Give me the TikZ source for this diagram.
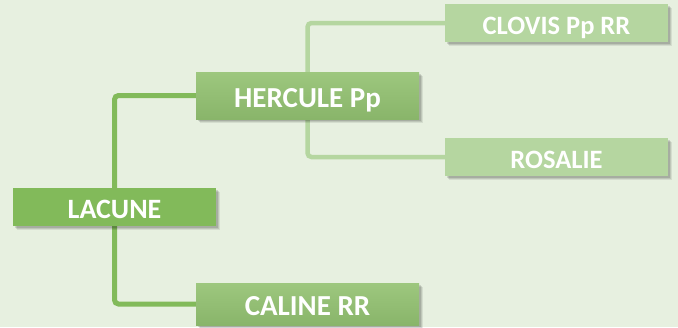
\documentclass[tikz,border=0pt]{standalone}
\usepackage{fontspec}
\setmainfont{Carlito}
\usetikzlibrary{shadows}
\definecolor{bgc}{HTML}{E7F0E0}
\definecolor{dark}{HTML}{82BA5A}
\definecolor{midtop}{HTML}{9DC77E}
\definecolor{midbot}{HTML}{89B56A}
\definecolor{light}{HTML}{B5D6A0}
\pgfdeclarelayer{bg}
\pgfdeclarelayer{lines}
\pgfsetlayers{bg,lines,main}
\tikzset{
  softshadow/.style={
    general shadow={shadow xshift=4pt, shadow yshift=-4pt, fill=black, opacity=0.08},
    general shadow={shadow xshift=3pt, shadow yshift=-3pt, fill=black, opacity=0.10},
    general shadow={shadow xshift=2pt, shadow yshift=-2pt, fill=black, opacity=0.12}},
  box/.style={rectangle, inner sep=0pt, text=white, softshadow},
  rootbox/.style={box, fill=dark, minimum width=203pt, minimum height=38pt,
    font=\fontsize{28}{30}\selectfont\bfseries, text height=22pt, text depth=0pt},
  midbox/.style={box, top color=midtop, bottom color=midbot, minimum width=223pt,
    font=\fontsize{29}{31}\selectfont\bfseries, text height=23pt, text depth=0pt},
  leafbox/.style={box, fill=light, minimum width=223pt, minimum height=38pt,
    font=\fontsize{26.5}{28}\selectfont\bfseries, text height=22pt, text depth=0pt},
  darkline/.style={draw=dark, line width=5pt, rounded corners=4pt},
  lightline/.style={draw=light, line width=4.5pt, rounded corners=4pt},
}
\begin{document}
\begin{tikzpicture}[x=1pt,y=-1pt]
\begin{pgfonlayer}{bg}
\fill[bgc] (0,0) rectangle (678,327);
\end{pgfonlayer}
\useasboundingbox (0,0) rectangle (678,327);
\node[rootbox] (lac) at (114.5,207) {LACUNE};
\node[midbox, minimum height=47pt] (her) at (307.5,95.5) {HERCULE Pp};
\node[midbox, minimum height=42pt] (cal) at (307.5,304) {CALINE RR};
\node[leafbox] (clo) at (556.5,23) {CLOVIS Pp RR};
\node[leafbox, text height=23pt] (ros) at (556.5,157) {ROSALIE};
\begin{pgfonlayer}{lines}
\draw[darkline] (lac.center) |- (her.west);
\draw[darkline] (lac.center) |- (cal.west);
\draw[lightline] (her.center) |- (clo.west);
\draw[lightline] (her.center) |- (ros.west);
\end{pgfonlayer}
\end{tikzpicture}
\end{document}
